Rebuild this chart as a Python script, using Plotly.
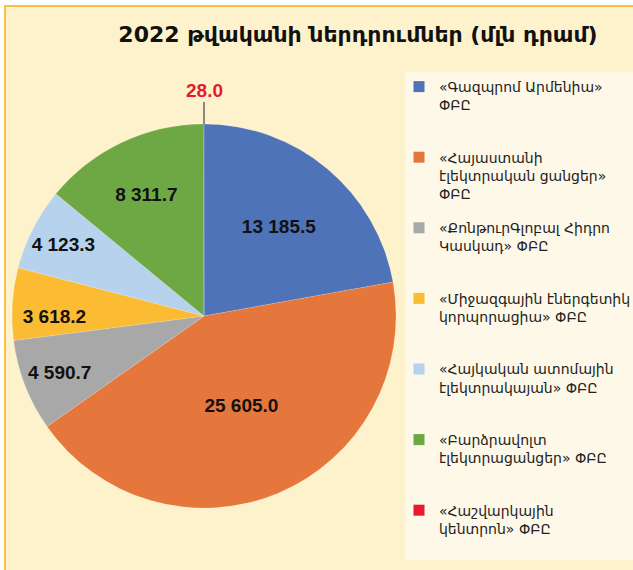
import plotly.graph_objects as go

# data
companies = [
    "«Գազպրոմ Արմենիա»<br>ՓԲԸ<br>\u00a0",
    "«Հայաստանի<br>էլեկտրական ցանցեր»<br>ՓԲԸ",
    "«ՔոնթուրԳլոբալ Հիդրո<br>Կասկադ» ՓԲԸ<br>\u00a0",
    "«Միջազգային էներգետիկ<br>կորպորացիա» ՓԲԸ<br>\u00a0",
    "«Հայկական ատոմային<br>էլեկտրակայան» ՓԲԸ<br>\u00a0",
    "«Բարձրավոլտ<br>էլեկտրացանցեր» ՓԲԸ<br>\u00a0",
    "«Հաշվարկային<br>կենտրոն» ՓԲԸ<br>\u00a0",
]
investments = [13185.5, 25605.0, 4590.7, 3618.2, 4123.3, 8311.7, 28.0]
colors = ['#4f73b9', '#e5763c', '#a8a8a8', '#fbbb32', '#b6d2ec', '#6ea845', '#e8192c']

title = "2022 թվականի ներդրումներ (մլն դրամ)"

labels = [f"{v:,.1f}".replace(",", " ") for v in investments]
# smallest slice gets its label outside via annotation
pie_text = labels[:-1] + [""]
positions = ['inside'] * (len(investments) - 1) + ['none']

fig = go.Figure()

fig.add_trace(go.Pie(
    labels=companies,
    values=investments,
    text=pie_text,
    textinfo='text',
    textposition=positions,
    insidetextorientation='horizontal',
    textfont=dict(family='Liberation Sans, Arial', size=19, color='#111111', weight='bold'),
    marker=dict(colors=colors, line=dict(color='rgba(255,255,255,0.3)', width=0.5)),
    sort=False,
    direction='clockwise',
    rotation=0,
    showlegend=False,
    domain=dict(x=[12 / 633, 396 / 633], y=[62 / 570, 446 / 570]),
    hoverinfo='label+value',
))

# legend entries (one group each so the gap between entries can be set)
for name, col in zip(companies, colors):
    fig.add_trace(go.Scatter(
        x=[None], y=[None], mode='markers', name=name, legendgroup=name,
        marker=dict(symbol='square', size=11, color=col),
    ))

# leader label for the tiny slice
fig.add_annotation(
    x=204 / 633, y=446 / 570, xref='paper', yref='paper',
    text=f"<b>{labels[-1]}</b>",
    showarrow=True, arrowhead=0, arrowwidth=1.5, arrowcolor='#666666',
    ax=0, ay=-34,
    font=dict(family='Liberation Sans, Arial', size=19, color='#e8192c'),
)

# background panel and legend box
fig.add_shape(type='rect', xref='paper', yref='paper',
              x0=5 / 633, x1=1.05, y0=-0.05, y1=1 - 6 / 570,
              fillcolor='#fef2cc', line=dict(color='#fbbf47', width=2), layer='below')
fig.add_shape(type='rect', xref='paper', yref='paper',
              x0=405 / 633, x1=1.05, y0=10 / 570, y1=1 - 72 / 570,
              fillcolor='#fdf8e8', line=dict(width=0), layer='below')

fig.update_layout(
    width=633, height=570,
    margin=dict(l=0, r=0, t=0, b=0, autoexpand=False),
    paper_bgcolor='white',
    plot_bgcolor='rgba(0,0,0,0)',
    xaxis=dict(visible=False),
    yaxis=dict(visible=False),
    title=dict(text=f"<b>{title}</b>", x=358 / 633, y=1 - 34 / 570,
               xanchor='center', yanchor='middle',
               font=dict(family='DejaVu Sans', size=22, color='#111111')),
    legend=dict(
        x=399 / 633, y=1 - 71 / 570, xanchor='left', yanchor='top',
        bgcolor='rgba(0,0,0,0)',
        font=dict(family='DejaVu Sans', size=14, color='#222222'),
        valign='top',
        itemwidth=30,
        tracegroupgap=13,
    ),
)

# the page body has a default 8px margin; drop it so the figure fills the window
fig.write_html("out.html", config={'displayModeBar': False},
               post_script="document.body.style.margin = '0';")
